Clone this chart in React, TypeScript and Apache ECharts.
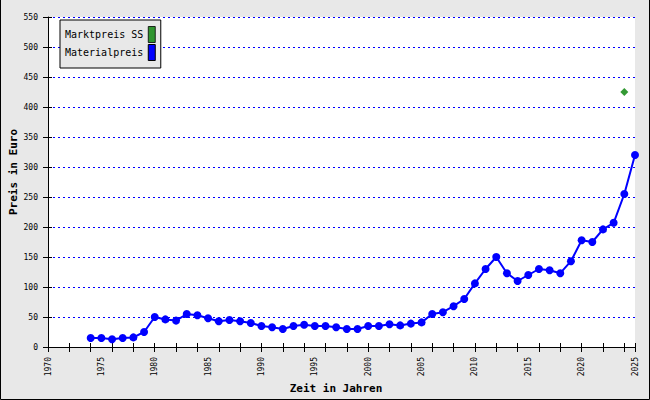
import React, { useEffect, useRef } from "react";
import * as echarts from "echarts";

const years: number[] = [
  1974, 1975, 1976, 1977, 1978, 1979, 1980, 1981, 1982, 1983, 1984, 1985, 1986,
  1987, 1988, 1989, 1990, 1991, 1992, 1993, 1994, 1995, 1996, 1997, 1998, 1999,
  2000, 2001, 2002, 2003, 2004, 2005, 2006, 2007, 2008, 2009, 2010, 2011, 2012,
  2013, 2014, 2015, 2016, 2017, 2018, 2019, 2020, 2021, 2022, 2023, 2024, 2025,
];
const materialpreis: number[] = [
  15, 15, 13, 15, 16, 25, 50, 46, 44, 55, 53, 48, 43,
  45, 43, 40, 35, 33, 30, 35, 37, 35, 35, 33, 30, 30,
  35, 35, 38, 36, 39, 41, 55, 58, 68, 80, 106, 130, 150,
  123, 110, 120, 130, 128, 123, 143, 178, 175, 196, 207, 255, 320,
];
const marktpreisYears: number[] = [2024];
const marktpreisValues: number[] = [425];

const seriesNames = ["Marktpreis SS", "Materialpreis"];
const yTitle = "Preis in Euro";
const xTitle = "Zeit in Jahren";

const FONT = "DejaVu Sans Mono";
const BLUE = "#0000ff";
const GREEN = "#008000";

export default function App() {
  const ref = useRef<HTMLDivElement>(null);
  useEffect(() => {
    if (!ref.current) return;
    const chart = echarts.init(ref.current, null, { renderer: "svg" });
    const tickAxisBase = {
      type: "value",
      min: 1970,
      max: 2025,
      interval: 2,
      position: "bottom",
      axisLine: { show: false },
      axisLabel: { show: false },
      splitLine: { show: false },
    };
    chart.setOption({
      animation: false,
      backgroundColor: "#e8e8e8",
      grid: {
        left: 48,
        right: 15,
        top: 17,
        bottom: 53,
        show: true,
        backgroundColor: "#ffffff",
        borderWidth: 0,
      },
      legend: {
        data: seriesNames,
        orient: "vertical",
        left: 60,
        top: 20,
        align: "right",
        icon: "rect",
        itemWidth: 7,
        itemHeight: 16,
        itemGap: 1,
        padding: [6, 5, 7, 5],
        backgroundColor: "#e8e8e8",
        borderColor: "#000",
        borderWidth: 1,
        selectedMode: false,
        itemStyle: { borderColor: "#000", borderWidth: 1 },
        textStyle: { fontFamily: FONT, fontSize: 10, color: "#000" },
      },
      xAxis: [
        {
          type: "value",
          min: 1970,
          max: 2025,
          interval: 5,
          position: "bottom",
          axisLine: { show: true, lineStyle: { color: "#000", width: 1 } },
          axisTick: { show: false },
          splitLine: { show: false },
          axisLabel: {
            rotate: 90,
            margin: 10,
            fontSize: 8,
            fontFamily: FONT,
            color: "#000",
            formatter: (v: number) => String(v),
          },
        },
        {
          ...tickAxisBase,
          axisTick: { show: true, inside: false, length: 5, lineStyle: { color: "#000" } },
        },
        {
          ...tickAxisBase,
          axisTick: { show: true, inside: true, length: 4, lineStyle: { color: "#000" } },
        },
      ],
      yAxis: [
        {
          type: "value",
          min: 0,
          max: 550,
          interval: 50,
          position: "left",
          axisLine: { show: true, lineStyle: { color: "#000", width: 1 } },
          axisTick: { show: true, inside: false, length: 5, lineStyle: { color: "#000" } },
          axisLabel: {
            margin: 10,
            fontSize: 8,
            fontFamily: FONT,
            color: "#000",
            formatter: (v: number) => String(v),
          },
          splitLine: {
            show: true,
            lineStyle: { color: BLUE, width: 1, type: [2, 3] },
          },
        },
        {
          type: "value",
          min: 0,
          max: 550,
          interval: 50,
          position: "left",
          axisLine: { show: false },
          axisLabel: { show: false },
          axisTick: { show: true, inside: true, length: 4, lineStyle: { color: "#000" } },
          splitLine: { show: false },
        },
      ],
      series: [
        {
          name: seriesNames[0],
          type: "scatter",
          xAxisIndex: 0,
          yAxisIndex: 0,
          data: marktpreisYears.map((y, i) => [y, marktpreisValues[i]]),
          symbol: "diamond",
          symbolSize: 8,
          itemStyle: { color: GREEN },
          z: 4,
        },
        {
          name: seriesNames[1],
          type: "line",
          xAxisIndex: 0,
          yAxisIndex: 0,
          data: years.map((y, i) => [y, materialpreis[i]]),
          symbol: "circle",
          symbolSize: 8,
          showSymbol: true,
          lineStyle: { color: BLUE, width: 2 },
          itemStyle: { color: BLUE },
          z: 3,
        },
      ],
      graphic: [
        {
          type: "text",
          x: 13,
          y: 172,
          rotation: Math.PI / 2,
          style: {
            text: yTitle,
            fontFamily: FONT,
            fontWeight: "bold",
            fontSize: 11,
            fill: "#000",
            align: "center",
            verticalAlign: "middle",
          },
        },
        {
          type: "text",
          x: 336,
          y: 388,
          style: {
            text: xTitle,
            fontFamily: FONT,
            fontWeight: "bold",
            fontSize: 11,
            fill: "#000",
            align: "center",
            verticalAlign: "middle",
          },
        },
        {
          type: "polyline",
          shape: {
            points: [
              [0.5, 0],
              [0.5, 399.5],
              [649.5, 399.5],
              [649.5, 0],
            ],
          },
          style: { stroke: "#000", lineWidth: 1, fill: null },
          silent: true,
        },
      ],
    });
    return () => chart.dispose();
  }, []);
  return (
    <div
      ref={ref}
      style={{ position: "absolute", left: 0, top: 0, width: 650, height: 400 }}
    />
  );
}
